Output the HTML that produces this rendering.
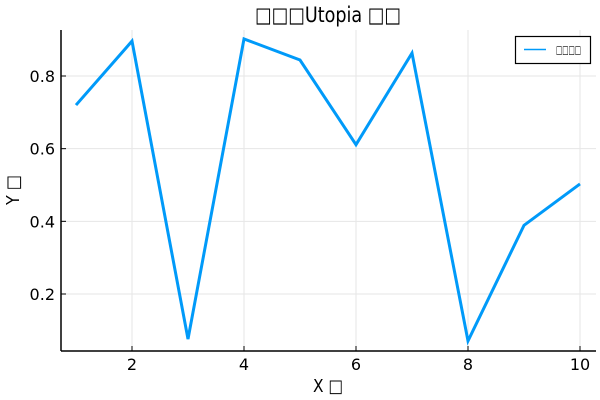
<!DOCTYPE html>
<html><head><meta charset="utf-8"><style>
html,body{margin:0;padding:0;background:#fff;}
svg{display:block;font-family:"DejaVu Sans","Liberation Sans","Noto Sans CJK SC",sans-serif;}
</style></head><body>
<svg id="chart" width="600" height="400" xmlns="http://www.w3.org/2000/svg">
<text x="255" y="22" font-size="21" textLength="146" lengthAdjust="spacingAndGlyphs">□□□Utopia □□</text>
<text x="313" y="392" font-size="18" textLength="30" lengthAdjust="spacingAndGlyphs">X □</text>
<text transform="translate(19,205) rotate(-90)" font-size="18" textLength="30" lengthAdjust="spacingAndGlyphs">Y □</text>
<g id="grid"></g>
<g id="axes"></g>
<path id="series" fill="none" stroke="#009af9" stroke-width="3" stroke-linejoin="miter"></path>
<g>
<rect x="515.5" y="36.5" width="75" height="27" fill="#fff" stroke="#000" stroke-width="1.2"></rect>
<line x1="524" y1="49.5" x2="546" y2="49.5" stroke="#009af9" stroke-width="1.5"></line>
<text x="556" y="53.5" font-size="11" textLength="25" lengthAdjust="spacingAndGlyphs">□□□□</text>
</g>
</svg>
<script>
const xValues = [1,2,3,4,5,6,7,8,9,10];
const yValues = [0.72,0.896,0.076,0.902,0.844,0.611,0.863,0.071,0.389,0.503];
const xTicks = [2,4,6,8,10];
const yTicks = [0.2,0.4,0.6,0.8];
const yTickLabels = ["0.2","0.4","0.6","0.8"];

const L=61,R=596,T=30,B=351;
function sx(v){return 76+(v-1)*(580-76)/9;}
function sy(v){return 294-(v-0.2)*(294-76)/0.6;}
const NS="http://www.w3.org/2000/svg";
const grid=document.getElementById('grid'), axes=document.getElementById('axes');
function mk(tag,attrs,parent){const e=document.createElementNS(NS,tag);for(const k in attrs)e.setAttribute(k,attrs[k]);parent.appendChild(e);return e;}
xTicks.forEach(t=>{
  const g=mk('line',{x1:sx(t),x2:sx(t),y1:T,y2:B,stroke:'#e6e6e6','stroke-width':1},grid);
  
  
  const k=mk('line',{x1:sx(t),x2:sx(t),y1:B,y2:B-5,stroke:'#000','stroke-width':1},axes);
  
  
  const tx=mk('text',{x:sx(t),y:B+19,'font-size':16,'text-anchor':'middle'},axes);
  tx.textContent=String(t);
  
  
});
yTicks.forEach((t,i)=>{
  const g=mk('line',{x1:L,x2:R,y1:sy(t),y2:sy(t),stroke:'#e6e6e6','stroke-width':1},grid);
  
  
  const k=mk('line',{x1:L,x2:L+5,y1:sy(t),y2:sy(t),stroke:'#000','stroke-width':1},axes);
  
  
  const tx=mk('text',{x:L-6,y:sy(t)+6,'font-size':16,'text-anchor':'end'},axes);
  tx.textContent=yTickLabels[i];
  
  
});
const xa=mk('line',{x1:L,x2:R,y1:B,y2:B,stroke:'#000','stroke-width':1.5},axes);


const ya=mk('line',{x1:L,x2:L,y1:T,y2:B,stroke:'#000','stroke-width':1.5},axes);


document.getElementById('series').setAttribute('d',xValues.map((x,i)=>(i?'L':'M')+sx(x)+','+sy(yValues[i])).join(' '));
</script>
</body></html>
